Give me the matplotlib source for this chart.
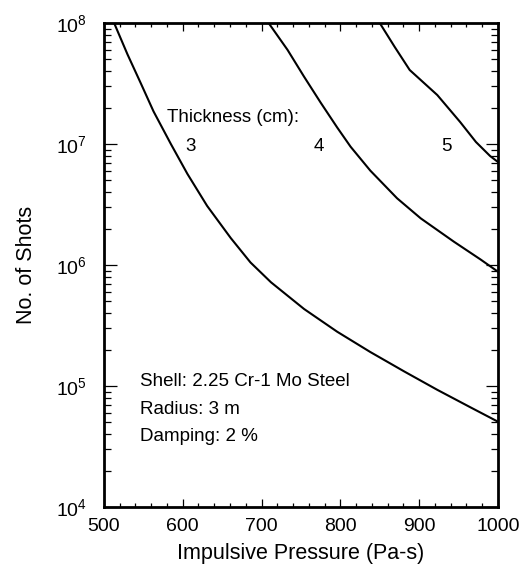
import matplotlib.pyplot as plt
import numpy as np
from matplotlib.ticker import MultipleLocator, LogLocator, LogFormatterMathtext

plt.rcParams['font.family'] = ['Liberation Sans', 'DejaVu Sans']
plt.rcParams['mathtext.default'] = 'regular'

# thickness 3 cm
x_3 = [513, 530, 547, 563, 585, 606, 631, 661, 686, 712, 754, 796, 838, 881, 923, 965, 1000]
y_3 = [1.0e8, 5.5e7, 3.16e7, 1.86e7, 1.0e7, 5.66e6, 3.08e6, 1.67e6, 1.05e6, 7.2e5,
       4.33e5, 2.81e5, 1.91e5, 1.32e5, 9.3e4, 6.67e4, 5.07e4]

# thickness 4 cm
x_4 = [709, 733, 754, 775, 796, 813, 838, 872, 902, 944, 978, 1000]
y_4 = [1.0e8, 6.0e7, 3.6e7, 2.2e7, 1.37e7, 9.5e6, 6.03e6, 3.56e6, 2.43e6, 1.56e6, 1.11e6, 8.8e5]

# thickness 5 cm
x_5 = [850, 869, 888, 923, 952, 972, 990, 1000]
y_5 = [1.0e8, 6.34e7, 4.09e7, 2.54e7, 1.52e7, 1.04e7, 7.96e6, 7.1e6]

thickness_labels = ['3', '4', '5']
label_x = [610, 773, 934]

fig = plt.figure(figsize=(5.22, 5.70), dpi=100)
ax = fig.add_axes([0.199, 0.1105, 0.755, 0.8491])

for xs, ys in [(x_3, y_3), (x_4, y_4), (x_5, y_5)]:
    ax.plot(xs, ys, color='black', linewidth=1.5, solid_joinstyle='round')

ax.set_yscale('log')
ax.set_xlim(500, 1000)
ax.set_ylim(1e4, 1e8)

ax.xaxis.set_major_locator(MultipleLocator(100))
ax.xaxis.set_minor_locator(MultipleLocator(20))
ax.yaxis.set_major_locator(LogLocator(base=10, numticks=10))
ax.yaxis.set_minor_locator(LogLocator(base=10, subs=np.arange(2, 10), numticks=20))
ax.yaxis.set_major_formatter(LogFormatterMathtext())

ax.tick_params(which='both', direction='in', top=True, right=True, width=0.9)
ax.tick_params(axis='x', which='major', length=6, labelsize=14, pad=8)
ax.tick_params(axis='x', which='minor', length=3)
ax.tick_params(axis='y', which='major', length=9, labelsize=14, pad=12)
ax.tick_params(axis='y', which='minor', length=5)
for s in ax.spines.values():
    s.set_linewidth(2)

ax.set_xlabel('Impulsive Pressure (Pa-s)', fontsize=15.5, labelpad=6)
ax.set_ylabel('No. of Shots', fontsize=15.5, labelpad=14)

ax.text(580, 1.66e7, 'Thickness (cm):', fontsize=13.5, va='center', ha='left')
for lab, lx in zip(thickness_labels, label_x):
    ax.text(lx, 9.6e6, lab, fontsize=13.5, va='center', ha='center')

ax.text(546, 1.08e5, 'Shell: 2.25 Cr-1 Mo Steel', fontsize=13.5, va='center')
ax.text(546, 6.4e4, 'Radius: 3 m', fontsize=13.5, va='center')
ax.text(546, 3.8e4, 'Damping: 2 %', fontsize=13.5, va='center')

fig.savefig('out.png', dpi=100)
